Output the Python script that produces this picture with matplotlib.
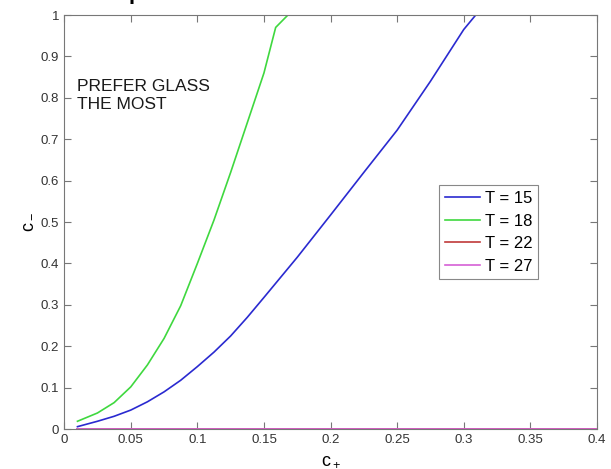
import matplotlib
matplotlib.use("Agg")
import matplotlib.pyplot as plt
from matplotlib.ticker import FuncFormatter

plt.rcParams['font.family'] = ['Liberation Sans', 'DejaVu Sans']
plt.rcParams['mathtext.fontset'] = 'custom'
plt.rcParams['mathtext.rm'] = 'Liberation Sans'
plt.rcParams['mathtext.it'] = 'Liberation Sans'

# T = 15 curve
c_plus_15 = [0.01, 0.025, 0.0375, 0.05, 0.0625, 0.075, 0.0875, 0.1, 0.1125, 0.125, 0.1375, 0.15,
             0.175, 0.2, 0.225, 0.25, 0.275, 0.3, 0.309, 0.315]
c_minus_15 = [0.006, 0.019, 0.031, 0.046, 0.066, 0.09, 0.118, 0.151, 0.186, 0.225, 0.27, 0.318,
              0.415, 0.517, 0.62, 0.722, 0.84, 0.965, 1.0, 1.0]

# T = 18 curve
c_plus_18 = [0.01, 0.025, 0.0375, 0.05, 0.0625, 0.075, 0.0875, 0.1, 0.1125, 0.125, 0.1375, 0.15,
             0.1588, 0.168, 0.17]
c_minus_18 = [0.019, 0.039, 0.064, 0.102, 0.155, 0.219, 0.298, 0.4, 0.505, 0.62, 0.74, 0.86,
              0.97, 1.0, 1.0]

# T = 22 and T = 27 stay at zero
c_plus_flat = [0.01, 0.4]
c_minus_22 = [0.0, 0.0]
c_minus_27 = [0.0, 0.0]

x_ticks = [0, 0.05, 0.1, 0.15, 0.2, 0.25, 0.3, 0.35, 0.4]
y_ticks = [0, 0.1, 0.2, 0.3, 0.4, 0.5, 0.6, 0.7, 0.8, 0.9, 1]

fig = plt.figure(figsize=(6.11, 4.69), dpi=100)
ax = fig.add_axes([0.105, 0.085, 0.872, 0.883])

ax.plot(c_plus_15, c_minus_15, color='#2a2ad0', lw=1.2, label='T = 15')
ax.plot(c_plus_18, c_minus_18, color='#3fd83f', lw=1.2, label='T = 18')
ax.plot(c_plus_flat, c_minus_22, color='#c03a3a', lw=1.2, label='T = 22')
ax.plot(c_plus_flat, c_minus_27, color='#d660d6', lw=1.2, label='T = 27')

ax.set_xlim(0, 0.4)
ax.set_ylim(0, 1)
ax.set_xticks(x_ticks)
ax.set_yticks(y_ticks)
fmt = FuncFormatter(lambda v, p: '%g' % v)
ax.xaxis.set_major_formatter(fmt)
ax.yaxis.set_major_formatter(fmt)
ax.tick_params(direction='in', top=True, right=True, length=5, labelsize=9.5,
               labelcolor='#333333', color='#777777')
for s in ax.spines.values():
    s.set_color('#777777')
    s.set_linewidth(0.8)

ax.set_xlabel('c$_+$', fontsize=13)
ax.set_ylabel('c$_-$', fontsize=13)

ax.text(0.025, 0.845, 'PREFER GLASS\nTHE MOST', fontsize=12.5, color='#1a1a1a',
        transform=ax.transAxes, va='top', linespacing=1.25)

leg = ax.legend(loc='upper left', bbox_to_anchor=(0.703, 0.589), fontsize=12,
                fancybox=False, framealpha=1, handlelength=2.1, borderpad=0.35,
                labelspacing=0.45, handletextpad=0.3, borderaxespad=0)
leg.get_frame().set_edgecolor('#888888')
leg.get_frame().set_linewidth(0.8)

# bit of the cropped title above the figure
fig.text(129 / 611, 1 + 0.5 / 469, 'p', fontsize=16, fontweight='bold',
         ha='left', va='baseline')

plt.savefig('out.png', dpi=100)
